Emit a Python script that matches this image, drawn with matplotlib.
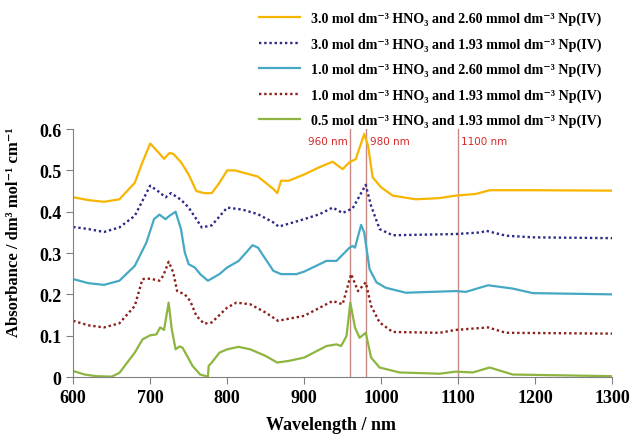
import matplotlib
matplotlib.use('Agg')
import matplotlib.pyplot as plt

plt.rcParams['font.family'] = ['Liberation Serif', 'DejaVu Serif']

# wavelength (nm) / absorbance pairs
wl_a = [600, 620, 640, 660, 680, 690, 700, 710, 718, 725, 730, 740, 750, 760, 770, 780, 790, 800, 810, 820,
        840, 860, 865, 870, 880, 900, 919, 937, 950, 959, 967, 978, 983, 989, 1000, 1015, 1045, 1076, 1097,
        1123, 1141, 1197, 1300]
abs_a = [0.435, 0.428, 0.424, 0.43, 0.47, 0.52, 0.565, 0.545, 0.528, 0.542, 0.54, 0.52, 0.49, 0.45, 0.445,
         0.445, 0.47, 0.50, 0.50, 0.495, 0.485, 0.455, 0.445, 0.475, 0.475, 0.49, 0.507, 0.521, 0.503, 0.52,
         0.527, 0.588, 0.56, 0.483, 0.459, 0.439, 0.43, 0.433, 0.439, 0.443, 0.452, 0.452, 0.451]

wl_b = [600, 620, 640, 660, 680, 700, 710, 720, 727, 740, 750, 760, 767, 780, 800, 820, 840, 860, 867, 880,
        900, 920, 937, 950, 963, 980, 987, 998, 1015, 1097, 1130, 1136, 1162, 1197, 1300]
abs_b = [0.363, 0.358, 0.351, 0.362, 0.39, 0.463, 0.45, 0.435, 0.445, 0.429, 0.41, 0.382, 0.362, 0.367, 0.41,
         0.405, 0.394, 0.374, 0.364, 0.371, 0.382, 0.394, 0.41, 0.397, 0.408, 0.465, 0.414, 0.358, 0.343,
         0.346, 0.35, 0.354, 0.342, 0.338, 0.336]

wl_c = [600, 620, 640, 660, 680, 695, 705, 712, 720, 725, 733, 740, 745, 750, 758, 765, 775, 790, 800, 815,
        833, 840, 850, 860, 870, 890, 900, 929, 942, 959, 963, 966, 974, 978, 985, 994, 1006, 1032, 1097,
        1110, 1139, 1171, 1197, 1300]
abs_c = [0.237, 0.227, 0.223, 0.233, 0.269, 0.325, 0.382, 0.393, 0.382, 0.39, 0.40, 0.358, 0.301, 0.273,
         0.265, 0.249, 0.233, 0.249, 0.265, 0.281, 0.319, 0.313, 0.285, 0.257, 0.249, 0.249, 0.255, 0.281,
         0.281, 0.313, 0.317, 0.313, 0.368, 0.35, 0.261, 0.229, 0.216, 0.204, 0.208, 0.206, 0.222, 0.214,
         0.203, 0.200]

wl_d = [600, 620, 640, 660, 680, 690, 700, 712, 717, 724, 730, 735, 745, 752, 760, 770, 780, 800, 812, 830,
        850, 866, 880, 900, 937, 950, 961, 970, 980, 987, 998, 1015, 1076, 1097, 1139, 1162, 1300]
abs_d = [0.136, 0.125, 0.12, 0.13, 0.172, 0.237, 0.238, 0.233, 0.245, 0.279, 0.253, 0.208, 0.2, 0.184, 0.148,
         0.129, 0.132, 0.168, 0.18, 0.176, 0.156, 0.136, 0.141, 0.148, 0.184, 0.176, 0.249, 0.208, 0.229,
         0.172, 0.132, 0.109, 0.107, 0.114, 0.12, 0.107, 0.105]

wl_e = [600, 615, 630, 650, 660, 680, 690, 700, 708, 713, 718, 724, 728, 733, 738, 742, 748, 755, 765, 775,
        776, 780, 790, 800, 815, 830, 850, 865, 880, 900, 929, 942, 948, 955, 960, 966, 972, 980, 987, 998,
        1024, 1076, 1097, 1119, 1141, 1171, 1300]
abs_e = [0.0145, 0.006, 0.002, 0.001, 0.01, 0.059, 0.091, 0.101, 0.103, 0.12, 0.114, 0.18, 0.116, 0.067,
         0.074, 0.071, 0.051, 0.027, 0.006, 0.001, 0.027, 0.035, 0.059, 0.067, 0.073, 0.067, 0.051, 0.035,
         0.039, 0.047, 0.075, 0.079, 0.075, 0.099, 0.18, 0.12, 0.095, 0.107, 0.047, 0.023, 0.011, 0.008,
         0.013, 0.011, 0.023, 0.006, 0.002]

labels = ['3.0 mol dm⁻³ HNO₃ and 2.60 mmol dm⁻³ Np(IV)',
          '3.0 mol dm⁻³ HNO₃ and 1.93 mmol dm⁻³ Np(IV)',
          '1.0 mol dm⁻³ HNO₃ and 2.60 mmol dm⁻³ Np(IV)',
          '1.0 mol dm⁻³ HNO₃ and 1.93 mmol dm⁻³ Np(IV)',
          '0.5 mol dm⁻³ HNO₃ and 1.93 mmol dm⁻³ Np(IV)']
marker_lines = [960, 980, 1100]
marker_labels = ['960 nm', '980 nm', '1100 nm']

fig = plt.figure(figsize=(6.31, 4.35), dpi=100)
ax = fig.add_axes([0.116, 0.131, 0.854, 0.570])

for x in marker_lines:
    ax.axvline(x, color='#c98a86', lw=1.0, zorder=1)

ax.plot(wl_a, abs_a, color='#f7b500', lw=1.6, label=labels[0])
ax.plot(wl_b, abs_b, color='#2b2a86', lw=1.7, ls=(0, (1, 1.2)), label=labels[1])
ax.plot(wl_c, abs_c, color='#45a8c4', lw=1.6, label=labels[2])
ax.plot(wl_d, abs_d, color='#8c1f1a', lw=1.7, ls=(0, (1, 1.2)), label=labels[3])
ax.plot(wl_e, abs_e, color='#8db540', lw=1.6, label=labels[4])

# annotations for the marker lines
ax.text(957, 0.572, marker_labels[0], color='#d62728', fontsize=7.5, family='DejaVu Sans', ha='right', va='center')
ax.text(985, 0.572, marker_labels[1], color='#d62728', fontsize=7.5, family='DejaVu Sans', ha='left', va='center')
ax.text(1104, 0.572, marker_labels[2], color='#d62728', fontsize=7.5, family='DejaVu Sans', ha='left', va='center')

ax.set_xlim(600, 1300)
ax.set_ylim(0, 0.6)
ax.set_xticks(range(600, 1301, 100))
ax.set_yticks([0, 0.1, 0.2, 0.3, 0.4, 0.5, 0.6])
ax.set_yticklabels(['0', '0.1', '0.2', '0.3', '0.4', '0.5', '0.6'])
ax.spines['top'].set_visible(False)
ax.spines['right'].set_visible(False)
ax.spines['left'].set_color('#808080')
ax.spines['bottom'].set_color('#808080')
ax.tick_params(axis='both', colors='#808080', labelcolor='black', labelsize=13, length=5, direction='out')
for t in ax.get_xticklabels() + ax.get_yticklabels():
    t.set_fontweight('bold')
ax.set_xlabel('Wavelength / nm', fontsize=13, fontweight='bold')
ax.set_ylabel('Absorbance / dm³ mol⁻¹ cm⁻¹', fontsize=12, fontweight='bold')
ax.xaxis.set_label_coords(0.479, -0.158)
ax.yaxis.set_label_coords(-0.095, 0.589)

fig.legend(loc='upper right', bbox_to_anchor=(0.966, 0.99), frameon=False,
           prop={'weight': 'bold', 'size': 10.1}, handlelength=2.9, labelspacing=0.86,
           handletextpad=0.75, borderaxespad=0.2)

fig.savefig('out.png', dpi=100)
